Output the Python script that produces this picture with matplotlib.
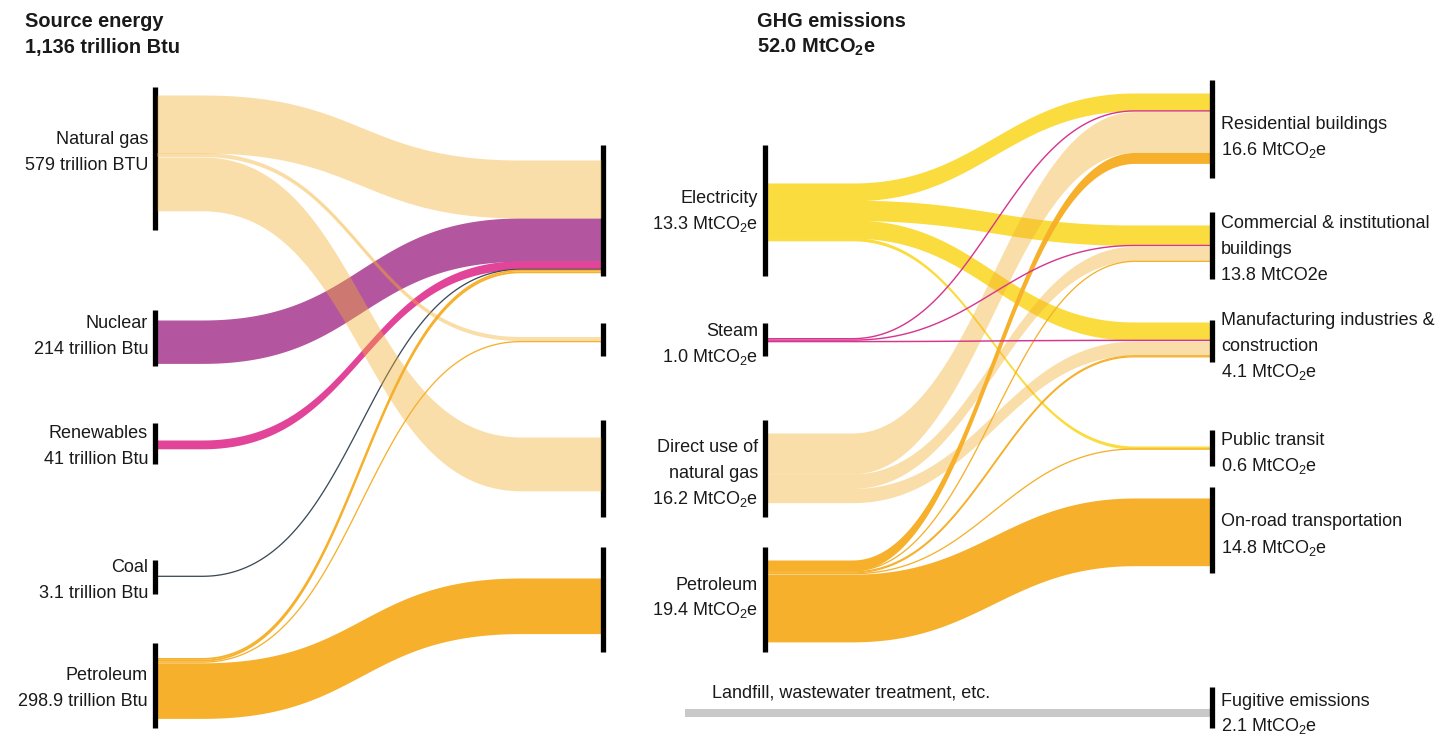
"""
Sankey pair: source energy -> carriers, and carriers -> GHG emissions by sector.
Drawn in pixel coordinates on one full-figure axes.
"""

import matplotlib
matplotlib.use("Agg")
import matplotlib.pyplot as plt
import numpy as np

# ── Data ──────────────────────────────────────────────────────────────────────

# Left panel: source energy (trillion Btu)
ENERGY_SOURCES = ["Natural gas", "Nuclear", "Renewables", "Coal", "Petroleum"]
ENERGY_SOURCE_LABELS = ["579 trillion BTU", "214 trillion Btu", "41 trillion Btu",
                        "3.1 trillion Btu", "298.9 trillion Btu"]
CARRIERS = ["Electricity", "Steam", "Direct use of natural gas", "Petroleum"]

E_FROM = ["Natural gas", "Natural gas", "Natural gas", "Natural gas",
          "Nuclear", "Renewables", "Coal",
          "Petroleum", "Petroleum", "Petroleum", "Petroleum"]
E_TO = ["Electricity", "Steam", "Steam", "Direct use of natural gas",
        "Electricity", "Electricity", "Electricity",
        "Electricity", "Electricity", "Steam", "Petroleum"]
E_VAL = [290, 10, 10, 269, 214, 41, 3.1, 9, 9, 6, 274.9]

# Right panel: GHG emissions (MtCO2e)
GHG_SOURCE_NAMES = ["Electricity", "Steam", "Direct use of\nnatural gas", "Petroleum"]
GHG_SOURCE_LABELS = ["13.3 MtCO$_2$e", "1.0 MtCO$_2$e", "16.2 MtCO$_2$e", "19.4 MtCO$_2$e"]
SECTORS = ["Residential buildings", "Commercial & institutional\nbuildings",
           "Manufacturing industries &\nconstruction", "Public transit",
           "On-road transportation", "Fugitive emissions"]
SECTOR_LABELS = ["16.6 MtCO$_2$e", "13.8 MtCO2e", "4.1 MtCO$_2$e", "0.6 MtCO$_2$e",
                 "14.8 MtCO$_2$e", "2.1 MtCO$_2$e"]

G_FROM = ["Electricity", "Electricity", "Electricity", "Electricity",
          "Steam", "Steam", "Steam",
          "Direct use of natural gas", "Direct use of natural gas", "Direct use of natural gas",
          "Petroleum", "Petroleum", "Petroleum", "Petroleum", "Petroleum", "Petroleum"]
G_TO = [0, 1, 2, 3,
        0, 1, 2,
        0, 1, 2,
        0, 1, 2, 2, 3, 4]
G_VAL = [4.0, 4.6, 4.1, 0.6,
         0.33, 0.33, 0.34,
         9.5, 3.4, 3.3,
         2.4, 0.25, 0.25, 0.2, 0.2, 15.6]

FUGITIVE_NAME = "Landfill, wastewater treatment, etc."
FUGITIVE_VAL = 2.1

# ── Style ─────────────────────────────────────────────────────────────────────

FONT = "Liberation Sans"
plt.rcParams.update({
    "font.family": [FONT, "DejaVu Sans"],
    "mathtext.fontset": "custom",
    "mathtext.rm": FONT,
    "mathtext.it": FONT + ":italic",
    "mathtext.bf": FONT + ":bold",
})

COLORS = {
    "Natural gas": ("#F4AE2A", 0.4),
    "Nuclear": ("#B4559F", 1.0),
    "Renewables": ("#E2449A", 1.0),
    "Coal": ("#3B4B57", 1.0),
    "Petroleum": ("#F6B02B", 1.0),
    "Electricity": ("#FBDC3F", 1.0),
    "Steam": ("#D6378E", 1.0),
    "Direct use of natural gas": ("#F4AE2A", 0.4),
}
TEXT_C = "#1a1a1a"
LABEL_FS = 13
TITLE_FS = 14.4
LINE_H = 26

# ── Layout (pixels) ───────────────────────────────────────────────────────────

W, H = 1455, 737
L_X, M_X = 155, 603           # left panel node columns
R_SRC_X, R_TGT_X = 765, 1212  # right panel node columns
L_SCALE, R_SCALE = 0.2, 4.3   # px per unit

SRC_BAR = {"Natural gas": (87, 230), "Nuclear": (310, 366), "Renewables": (423, 464),
           "Coal": (560, 594), "Petroleum": (643, 728)}
SRC_TOP = {"Natural gas": 95, "Nuclear": 320, "Renewables": 440, "Coal": 576, "Petroleum": 658}
SRC_LABEL_Y = {"Natural gas": 150, "Nuclear": 334, "Renewables": 444, "Coal": 578, "Petroleum": 686}

CAR_BAR = {"Electricity": (145, 276), "Steam": (323, 356),
           "Direct use of natural gas": (420, 517), "Petroleum": (547, 652)}
MID_TOP = {"Electricity": 160, "Steam": 337, "Direct use of natural gas": 437, "Petroleum": 578}
R_SRC_TOP = {"Electricity": 183, "Steam": 338, "Direct use of natural gas": 433, "Petroleum": 560}
R_SRC_LABEL_Y = [209, 342, 471, 596]

SECT_BAR = [(80, 178), (212, 279), (320, 362), (430, 466), (487, 573), (687, 728)]
SECT_TOP = [93, 225, 322, 446, 498, 709]
SECT_LABEL_Y = [135, 247, 344, 451, 533, 712]


def ribbon(ax, x0, y0, x1, y1, w, color, alpha, lead0, lead1, k=0.5, z=2):
    """Band of vertical thickness w from (x0, y0) to (x1, y1), y = top edge."""
    xa, xb = x0 + lead0, x1 - lead1
    t = np.linspace(0, 1, 120)
    dx = xb - xa
    bx = ((1 - t) ** 3 * xa + 3 * (1 - t) ** 2 * t * (xa + k * dx)
          + 3 * (1 - t) * t ** 2 * (xb - k * dx) + t ** 3 * xb)
    by = y0 + (y1 - y0) * (3 * t ** 2 - 2 * t ** 3)
    xs = np.concatenate([[x0], bx, [x1]])
    top = np.concatenate([[y0], by, [y1]])
    if w < 2.5:
        ax.plot(xs, top + w / 2, color=color, alpha=alpha,
                lw=max(w, 1.3) * 0.72, solid_capstyle="butt", zorder=z)
    else:
        # opaque bands get a hair of overlap so neighbours don't show seams
        pad = 0.6 if alpha == 1.0 else 0.0
        ax.fill_between(xs, top, top + w + pad, color=color, alpha=alpha, lw=0, zorder=z)


def stack(src, dst, vals, src_order, scale, src_top, dst_top):
    """Top-edge y of each flow at its source and at its destination."""
    n = len(vals)
    ys, yd = [0.0] * n, [0.0] * n
    cur = dict(src_top)
    for i in range(n):
        ys[i] = cur[src[i]]
        cur[src[i]] += vals[i] * scale
    cur = dict(dst_top)
    for i in sorted(range(n), key=lambda j: (src_order.index(src[j]), j)):
        yd[i] = cur[dst[i]]
        cur[dst[i]] += vals[i] * scale
    return ys, yd


def label(ax, x, yc, lines, ha, fs=LABEL_FS, weight="normal"):
    n = len(lines)
    for i, s in enumerate(lines):
        y = yc + (i - (n - 1) / 2) * LINE_H
        ax.text(x, y + 6.5, s, ha=ha, va="baseline", fontsize=fs,
                color=TEXT_C, fontweight=weight)


def vbar(ax, x, y0, y1):
    ax.plot([x, x], [y0, y1], color="black", lw=3.8, solid_capstyle="butt", zorder=5)


fig = plt.figure(figsize=(W / 100, H / 100), dpi=100)
ax = fig.add_axes([0, 0, 1, 1])
ax.set_xlim(0, W)
ax.set_ylim(H, 0)
ax.axis("off")

# ── Left panel ────────────────────────────────────────────────────────────────

ys, yd = stack(E_FROM, E_TO, E_VAL, ENERGY_SOURCES, L_SCALE, SRC_TOP, MID_TOP)
draw_order = ["Nuclear", "Renewables", "Coal", "Petroleum", "Natural gas"]
for z, s in enumerate(draw_order):
    for i in range(len(E_VAL)):
        if E_FROM[i] != s:
            continue
        c, a = COLORS[s]
        ribbon(ax, L_X + 2, ys[i], M_X - 2, yd[i], E_VAL[i] * L_SCALE, c, a,
               lead0=45, lead1=80, z=2 + z)

for s, lab in zip(ENERGY_SOURCES, ENERGY_SOURCE_LABELS):
    vbar(ax, L_X, *SRC_BAR[s])
    label(ax, L_X - 7, SRC_LABEL_Y[s], [s, lab], "right")
for c in CARRIERS:
    vbar(ax, M_X, *CAR_BAR[c])

label(ax, 25, 33, ["Source energy", "1,136 trillion Btu"], "left", TITLE_FS, "bold")

# ── Right panel ───────────────────────────────────────────────────────────────

ys, yd = stack(G_FROM, G_TO, G_VAL, CARRIERS, R_SCALE, R_SRC_TOP,
               dict(enumerate(SECT_TOP)))
draw_order = ["Electricity", "Direct use of natural gas", "Petroleum", "Steam"]
for z, s in enumerate(draw_order):
    for i in range(len(G_VAL)):
        if G_FROM[i] != s:
            continue
        c, a = COLORS[s]
        ribbon(ax, R_SRC_X + 2, ys[i], R_TGT_X - 2, yd[i], G_VAL[i] * R_SCALE, c, a,
               lead0=85, lead1=75, k=0.45, z=2 + z)

# landfill / wastewater -> fugitive emissions
ribbon(ax, 685, SECT_TOP[5], R_TGT_X - 2, SECT_TOP[5], FUGITIVE_VAL * R_SCALE * 0.8,
       "#C9C9C9", 1.0, lead0=0, lead1=0)
ax.text(712, 698, FUGITIVE_NAME, ha="left", va="baseline", fontsize=LABEL_FS, color=TEXT_C)

for c, name, lab, yc in zip(CARRIERS, GHG_SOURCE_NAMES, GHG_SOURCE_LABELS, R_SRC_LABEL_Y):
    vbar(ax, R_SRC_X, *CAR_BAR[c])
    label(ax, R_SRC_X - 7, yc, name.split("\n") + [lab], "right")

for k, (name, lab) in enumerate(zip(SECTORS, SECTOR_LABELS)):
    vbar(ax, R_TGT_X, *SECT_BAR[k])
    label(ax, R_TGT_X + 9, SECT_LABEL_Y[k], name.split("\n") + [lab], "left")

label(ax, 757, 33, ["GHG emissions", r"52.0 MtCO$_\mathbf{2}$e"], "left", TITLE_FS, "bold")

fig.savefig("out.png", dpi=100, facecolor="white")
